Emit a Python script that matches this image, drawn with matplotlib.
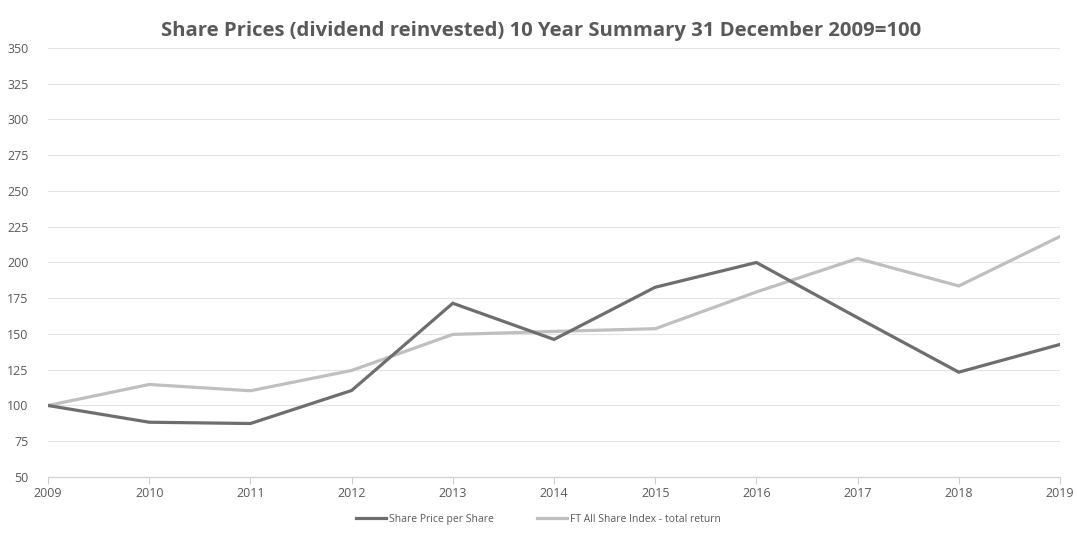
import matplotlib
matplotlib.use("Agg")
import matplotlib.pyplot as plt

years = [2009, 2010, 2011, 2012, 2013, 2014, 2015, 2016, 2017, 2018, 2019]
share_price = [100, 88.3, 87.4, 110.5, 171.5, 146.2, 182.7, 200, 161.4, 123.3, 142.7]
ft_all_share = [100, 114.7, 110.3, 124.5, 149.7, 151.8, 153.7, 179.4, 202.8, 183.6, 218.2]
y_ticks = list(range(50, 351, 25))

plt.rcParams['font.family'] = ['Open Sans', 'DejaVu Sans']
text_col = '#595959'

fig = plt.figure(figsize=(10.77, 5.51), dpi=100)
ax = fig.add_axes([0.0446, 0.1343, 0.9396, 0.7786])

ax.plot(years, share_price, color='#6e6e6e', lw=2.3, label='Share Price per Share',
        solid_joinstyle='miter', zorder=3)
ax.plot(years, ft_all_share, color='#bfbfbf', lw=2.3, label='FT All Share Index - total return',
        solid_joinstyle='miter', zorder=2)

ax.set_xlim(2009, 2019)
ax.set_ylim(50, 350)
ax.set_xticks(years)
ax.set_yticks(y_ticks)
ax.grid(axis='y', color='#e3e3e3', lw=0.8)
ax.set_axisbelow(True)

for s in ['top', 'right', 'left']:
    ax.spines[s].set_visible(False)
ax.spines['bottom'].set_color('#d0d0d0')
ax.spines['bottom'].set_linewidth(0.8)
ax.tick_params(axis='y', length=0, labelsize=9, labelcolor=text_col, pad=14)
ax.tick_params(axis='x', length=5, color='#d0d0d0', labelsize=9, labelcolor=text_col, pad=2)

fig.suptitle('Share Prices (dividend reinvested) 10 Year Summary 31 December 2009=100',
             x=0.502, y=0.962, fontsize=14.6, fontweight='bold', color=text_col)

fig.legend(loc='center', bbox_to_anchor=(0.5, 0.058), ncol=2, frameon=False,
           fontsize=7.5, labelcolor=text_col, handlelength=2.8, handletextpad=0.3,
           columnspacing=4.2)

fig.savefig('out.png', dpi=100)
